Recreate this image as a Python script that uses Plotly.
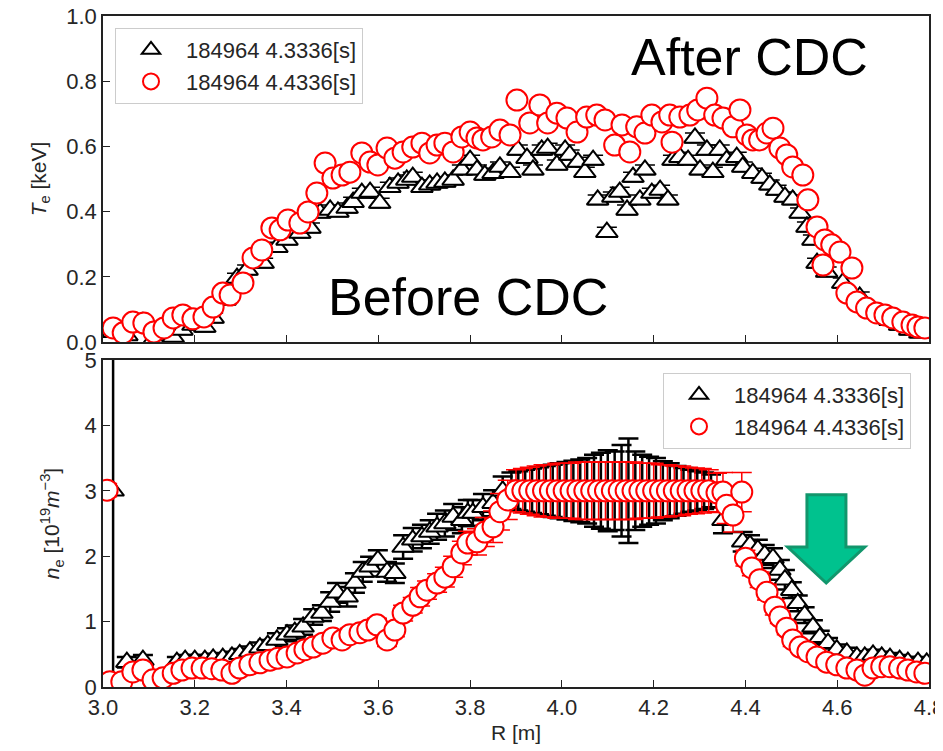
import plotly.graph_objects as go

# ---------------- Data ----------------
label_before = "184964 4.3336[s]"
label_after = "184964 4.4336[s]"

# Top panel: Te [keV], before CDC (black triangles)
R_te_before = [3.022, 3.052, 3.087, 3.111, 3.133, 3.153, 3.172, 3.196, 3.222, 3.240, 3.266, 3.292, 3.314,
               3.349, 3.379, 3.401, 3.429, 3.451, 3.473, 3.495, 3.512, 3.532, 3.545, 3.564, 3.582,
               3.603, 3.625, 3.643, 3.662, 3.675, 3.695, 3.712, 3.728, 3.745, 3.763, 3.782, 3.800,
               3.815, 3.832, 3.850, 3.865, 3.887, 3.904, 3.924, 3.937, 3.956, 3.969, 3.989, 4.007,
               4.017, 4.035, 4.050, 4.068, 4.078, 4.098, 4.111, 4.126, 4.142, 4.155, 4.170, 4.181,
               4.196, 4.214, 4.231, 4.242, 4.257, 4.275, 4.290, 4.301, 4.316, 4.329, 4.344, 4.359,
               4.381, 4.394, 4.416, 4.436, 4.453, 4.468, 4.486, 4.503, 4.519, 4.534, 4.547, 4.556,
               4.577, 4.612, 4.649, 4.671, 4.693, 4.715, 4.736, 4.758, 4.780]
Te_before = [0.030, 0.020, 0.060, 0.010, 0.020, 0.015, 0.037, 0.052, 0.046, 0.074, 0.129, 0.196, 0.221,
             0.242, 0.291, 0.313, 0.334, 0.350, 0.396, 0.405, 0.399, 0.411, 0.429, 0.457, 0.460,
             0.426, 0.475, 0.488, 0.497, 0.506, 0.475, 0.482, 0.488, 0.491, 0.497, 0.528, 0.558,
             0.528, 0.512, 0.518, 0.537, 0.521, 0.589, 0.564, 0.528, 0.589, 0.595, 0.543, 0.589,
             0.574, 0.552, 0.521, 0.558, 0.436, 0.337, 0.445, 0.460, 0.405, 0.506, 0.436, 0.528,
             0.457, 0.466, 0.436, 0.558, 0.567, 0.558, 0.626, 0.528, 0.589, 0.521, 0.589, 0.558,
             0.567, 0.537, 0.518, 0.503, 0.482, 0.466, 0.445, 0.436, 0.396, 0.353, 0.313, 0.242,
             0.215, 0.181, 0.138, 0.098, 0.083, 0.067, 0.052, 0.037, 0.028]
Te_before_err = [0.015] * len(Te_before)

# Top panel: Te [keV], after CDC (red circles)
R_te_after = [3.022, 3.044, 3.065, 3.089, 3.111, 3.133, 3.153, 3.174, 3.196, 3.220, 3.240, 3.261, 3.277,
              3.305, 3.327, 3.346, 3.368, 3.386, 3.403, 3.429, 3.447, 3.466, 3.484, 3.501, 3.521,
              3.538, 3.564, 3.582, 3.599, 3.619, 3.636, 3.654, 3.675, 3.695, 3.712, 3.728, 3.745,
              3.763, 3.782, 3.800, 3.815, 3.828, 3.847, 3.865, 3.887, 3.902, 3.930, 3.952, 3.969,
              3.989, 4.011, 4.033, 4.054, 4.076, 4.094, 4.115, 4.131, 4.148, 4.163, 4.181, 4.196,
              4.218, 4.235, 4.240, 4.257, 4.279, 4.296, 4.316, 4.333, 4.351, 4.373, 4.388, 4.403,
              4.416, 4.431, 4.447, 4.460, 4.475, 4.490, 4.503, 4.525, 4.536, 4.556, 4.569, 4.573,
              4.588, 4.606, 4.621, 4.632, 4.643, 4.664, 4.686, 4.704, 4.721, 4.743, 4.763, 4.776, 4.791]
Te_after = [0.043, 0.028, 0.061, 0.058, 0.031, 0.043, 0.074, 0.083, 0.071, 0.077, 0.107, 0.150, 0.144,
            0.181, 0.258, 0.282, 0.350, 0.344, 0.374, 0.365, 0.399, 0.457, 0.549, 0.503, 0.512,
            0.521, 0.580, 0.552, 0.543, 0.595, 0.564, 0.583, 0.598, 0.610, 0.580, 0.604, 0.610,
            0.583, 0.629, 0.644, 0.626, 0.620, 0.629, 0.650, 0.635, 0.742, 0.672, 0.727, 0.672,
            0.702, 0.687, 0.644, 0.690, 0.696, 0.681, 0.604, 0.666, 0.583, 0.660, 0.641, 0.696,
            0.675, 0.696, 0.613, 0.690, 0.696, 0.712, 0.748, 0.696, 0.687, 0.660, 0.712, 0.635,
            0.620, 0.620, 0.641, 0.656, 0.595, 0.574, 0.537, 0.512, 0.436, 0.353, 0.236, 0.313,
            0.298, 0.276, 0.150, 0.227, 0.123, 0.104, 0.089, 0.083, 0.074, 0.061, 0.052, 0.046, 0.043]
Te_after_err = [0.015] * len(Te_after)

# Bottom panel: ne [1e19 m^-3], before CDC (black triangles)
R_ne_before = [3.022, 3.052, 3.087, 3.161, 3.179, 3.200, 3.222, 3.240, 3.261, 3.281, 3.298, 3.320, 3.342,
               3.359, 3.379, 3.401, 3.418, 3.436, 3.458, 3.477, 3.495, 3.510, 3.532, 3.549, 3.566,
               3.582, 3.599, 3.619, 3.636, 3.654, 3.675, 3.695, 3.712, 3.728, 3.745, 3.763, 3.782,
               3.795, 3.806, 3.828, 3.850, 3.871, 3.890, 3.905, 3.920, 3.935, 3.950, 3.965, 3.980,
               3.995, 4.010, 4.025, 4.040, 4.055, 4.070, 4.085, 4.100, 4.115, 4.130, 4.145, 4.160,
               4.175, 4.190, 4.205, 4.220, 4.235, 4.250, 4.265, 4.280, 4.295, 4.310, 4.325, 4.351,
               4.394, 4.410, 4.427, 4.442, 4.460, 4.475, 4.486, 4.501, 4.514, 4.529, 4.547, 4.562,
               4.580, 4.599, 4.621, 4.643, 4.660, 4.678, 4.697, 4.715, 4.736, 4.754, 4.776, 4.795]
ne_before = [3.00, 0.38, 0.41, 0.38, 0.41, 0.41, 0.41, 0.43, 0.44, 0.46, 0.50, 0.54, 0.60,
             0.64, 0.72, 0.80, 0.84, 0.92, 1.07, 1.13, 1.30, 1.44, 1.38, 1.59, 1.76,
             1.84, 1.94, 1.76, 1.74, 2.14, 2.25, 2.30, 2.37, 2.45, 2.50, 2.60, 2.55,
             2.66, 2.66, 2.75, 2.81, 3.00, 3.00, 3.00, 3.00, 3.00, 3.00, 3.00, 3.00,
             3.00, 3.00, 3.00, 3.00, 3.00, 3.00, 3.00, 3.00, 3.00, 3.00, 3.00, 3.00,
             3.00, 3.00, 3.00, 3.00, 3.00, 3.00, 3.00, 3.00, 3.00, 3.00, 3.00, 2.55,
             2.22, 2.17, 2.10, 2.02, 1.97, 1.79, 1.64, 1.48, 1.28, 1.10, 0.92, 0.76,
             0.67, 0.57, 0.52, 0.46, 0.46, 0.49, 0.46, 0.44, 0.41, 0.38, 0.38, 0.37]
ne_before_err = [6.00, 0.08, 0.08, 0.08, 0.08, 0.08, 0.08, 0.08, 0.08, 0.08, 0.08, 0.08, 0.08,
                 0.08, 0.10, 0.10, 0.10, 0.12, 0.12, 0.12, 0.15, 0.15, 0.15, 0.15, 0.15,
                 0.15, 0.15, 0.15, 0.15, 0.18, 0.18, 0.18, 0.18, 0.20, 0.20, 0.20, 0.20,
                 0.20, 0.20, 0.20, 0.20, 0.22, 0.28, 0.30, 0.32, 0.34, 0.36, 0.38, 0.40,
                 0.42, 0.44, 0.46, 0.48, 0.50, 0.55, 0.58, 0.62, 0.60, 0.70, 0.80, 0.60,
                 0.55, 0.52, 0.50, 0.45, 0.42, 0.38, 0.35, 0.32, 0.30, 0.28, 0.25, 0.20,
                 0.15, 0.15, 0.15, 0.15, 0.15, 0.15, 0.15, 0.12, 0.12, 0.12, 0.10, 0.10,
                 0.08, 0.08, 0.08, 0.08, 0.08, 0.08, 0.08, 0.08, 0.08, 0.08, 0.08, 0.08]

# Bottom panel: ne [1e19 m^-3], after CDC (red circles)
R_ne_after = [3.009, 3.015, 3.041, 3.065, 3.087, 3.109, 3.131, 3.153, 3.172, 3.194, 3.216, 3.237, 3.259,
              3.281, 3.298, 3.320, 3.342, 3.364, 3.381, 3.401, 3.423, 3.440, 3.458, 3.479, 3.501,
              3.521, 3.538, 3.560, 3.577, 3.597, 3.619, 3.636, 3.654, 3.675, 3.691, 3.706, 3.728,
              3.745, 3.763, 3.782, 3.795, 3.815, 3.832, 3.850, 3.865, 3.882, 3.900, 3.915, 3.930,
              3.945, 3.960, 3.975, 3.990, 4.005, 4.020, 4.035, 4.050, 4.065, 4.080, 4.095, 4.110,
              4.125, 4.140, 4.155, 4.170, 4.185, 4.200, 4.215, 4.230, 4.245, 4.260, 4.275, 4.290,
              4.305, 4.320, 4.338, 4.351, 4.359, 4.373, 4.392, 4.400, 4.414, 4.431, 4.447, 4.464,
              4.475, 4.490, 4.503, 4.519, 4.536, 4.556, 4.577, 4.599, 4.621, 4.643, 4.660, 4.678,
              4.697, 4.715, 4.736, 4.754, 4.773, 4.791]
ne_after = [3.01, 0.08, 0.08, 0.23, 0.26, 0.11, 0.14, 0.21, 0.26, 0.29, 0.29, 0.28, 0.26,
            0.21, 0.29, 0.34, 0.37, 0.41, 0.44, 0.46, 0.52, 0.57, 0.61, 0.67, 0.75,
            0.72, 0.80, 0.83, 0.87, 0.95, 0.72, 0.87, 1.13, 1.25, 1.38, 1.48, 1.59,
            1.68, 1.84, 2.05, 2.20, 2.22, 2.37, 2.45, 2.68, 2.86, 3.00, 3.00, 3.00,
            3.00, 3.00, 3.00, 3.00, 3.00, 3.00, 3.00, 3.00, 3.00, 3.00, 3.00, 3.00,
            3.00, 3.00, 3.00, 3.00, 3.00, 3.00, 3.00, 3.00, 3.00, 3.00, 3.00, 3.00,
            3.00, 3.00, 2.97, 2.98, 2.78, 2.63, 2.98, 1.97, 1.82, 1.64, 1.45, 1.22,
            1.07, 0.90, 0.72, 0.61, 0.54, 0.46, 0.38, 0.34, 0.29, 0.26, 0.18, 0.29,
            0.31, 0.31, 0.29, 0.26, 0.23, 0.21]
ne_after_err = [0.10, 0.06, 0.06, 0.06, 0.06, 0.06, 0.06, 0.06, 0.06, 0.06, 0.06, 0.06, 0.06,
                0.06, 0.06, 0.06, 0.06, 0.06, 0.06, 0.06, 0.06, 0.08, 0.08, 0.08, 0.08,
                0.08, 0.10, 0.10, 0.10, 0.10, 0.10, 0.10, 0.12, 0.12, 0.14, 0.14, 0.14,
                0.15, 0.16, 0.18, 0.18, 0.20, 0.22, 0.24, 0.28, 0.30, 0.32, 0.34, 0.36,
                0.38, 0.40, 0.40, 0.42, 0.42, 0.42, 0.44, 0.44, 0.44, 0.44, 0.44, 0.44,
                0.44, 0.44, 0.44, 0.42, 0.42, 0.42, 0.40, 0.40, 0.38, 0.38, 0.36, 0.35,
                0.34, 0.32, 0.30, 0.30, 0.28, 0.26, 0.30, 0.12, 0.12, 0.12, 0.12, 0.12,
                0.10, 0.10, 0.10, 0.08, 0.08, 0.08, 0.06, 0.06, 0.06, 0.06, 0.06, 0.06,
                0.06, 0.06, 0.06, 0.06, 0.06, 0.06]

# Arrow (bottom panel, data coordinates)
arrow_x = [4.534, 4.619, 4.619, 4.660, 4.576, 4.492, 4.534]
arrow_y = [2.94, 2.94, 2.14, 2.14, 1.59, 2.14, 2.14]

x_ticks = [3.0, 3.2, 3.4, 3.6, 3.8, 4.0, 4.2, 4.4, 4.6, 4.8]
x_tick_text = ["3.0", "3.2", "3.4", "3.6", "3.8", "4.0", "4.2", "4.4", "4.6", "4.8"]
te_ticks = [0.0, 0.2, 0.4, 0.6, 0.8, 1.0]
te_tick_text = ["0.0", "0.2", "0.4", "0.6", "0.8", "1.0"]
ne_ticks = [0, 1, 2, 3, 4, 5]

# ---------------- Figure ----------------
FONT = "Liberation Sans"
TXT = "#262626"
BLACK = "#000000"
RED = "#ff0000"

fig = go.Figure()


def add_series(x, y, err, color, symbol, size, name, xa, ya, legend, bar_w):
    fig.add_trace(go.Scatter(
        x=x, y=y, mode="markers", name=name,
        xaxis=xa, yaxis=ya, legend=legend,
        marker=dict(symbol=symbol, size=size, color="white",
                    line=dict(color=color, width=2)),
        error_y=dict(type="data", array=err, visible=True, color=color,
                     thickness=bar_w, width=10),
    ))


add_series(R_te_before, Te_before, Te_before_err, BLACK, "triangle-up", 19, label_before, "x", "y", "legend", 1.5)
add_series(R_te_after, Te_after, Te_after_err, RED, "circle", 21, label_after, "x", "y", "legend", 1.5)
add_series(R_ne_before, ne_before, ne_before_err, BLACK, "triangle-up", 19, label_before, "x2", "y2", "legend2", 2.5)
add_series(R_ne_after, ne_after, ne_after_err, RED, "circle", 21, label_after, "x2", "y2", "legend2", 1.5)

# Geometry: page body has an 8px margin, so figure is 8px smaller and shifted.
OFF = 8
W, H = 943 - OFF, 751 - OFF
L, Rm, T, B = 103 - OFF, 14, 16 - OFF, 64
ph = H - T - B           # plot height in px
pw = W - L - Rm          # plot width in px


def py(y_screen):        # screen px (reference) -> paper y
    return (687 - y_screen) / ph


def px(x_screen):        # screen px (reference) -> paper x
    return (x_screen - 103) / pw


top_dom = [py(342), 1.0]
bot_dom = [0.0, py(360)]

axis_common = dict(showline=True, linecolor="#222222", linewidth=1.5, mirror=True,
                   ticks="inside", ticklen=7, tickwidth=1.2, tickcolor="#222222",
                   showgrid=False, zeroline=False, automargin=False,
                   ticklabeloverflow="allow",
                   tickfont=dict(family=FONT, size=22, color=TXT))

fig.update_layout(
    width=W, height=H,
    margin=dict(l=L, r=Rm, t=T, b=B, autoexpand=False),
    plot_bgcolor="white", paper_bgcolor="white",
    showlegend=True,
    xaxis=dict(axis_common, domain=[0, 1], anchor="y", range=[3.0, 4.8],
               tickvals=x_ticks, showticklabels=False),
    yaxis=dict(axis_common, domain=top_dom, anchor="x", range=[0, 1.0],
               tickvals=te_ticks, ticktext=te_tick_text,
               title=dict(text="<i>T</i><sub>e</sub> [keV]", standoff=14,
                          font=dict(family=FONT, size=21, color=TXT))),
    xaxis2=dict(axis_common, domain=[0, 1], anchor="y2", range=[3.0, 4.8],
                tickvals=x_ticks, ticktext=x_tick_text,
                title=dict(text="R [m]", standoff=6, font=dict(family=FONT, size=21, color=TXT))),
    yaxis2=dict(axis_common, domain=bot_dom, anchor="x2", range=[0, 5],
                tickvals=ne_ticks,
                title=dict(text="<i>n</i><sub>e</sub> [10<sup>19</sup><i>m</i><sup>−3</sup>]", standoff=19,
                           font=dict(family=FONT, size=21, color=TXT))),
    legend=dict(x=px(115), y=py(28), xanchor="left", yanchor="top",
                bgcolor="rgba(255,255,255,0.85)", bordercolor="#cccccc", borderwidth=1,
                font=dict(family=FONT, size=22, color=TXT), itemwidth=60, tracegroupgap=4),
    legend2=dict(x=px(663), y=py(373), xanchor="left", yanchor="top",
                 bgcolor="rgba(255,255,255,0.85)", bordercolor="#cccccc", borderwidth=1,
                 font=dict(family=FONT, size=22, color=TXT), itemwidth=60, tracegroupgap=4),
)

# Green arrow
path = "M " + " L ".join(f"{x},{y}" for x, y in zip(arrow_x, arrow_y)) + " Z"
fig.add_shape(type="path", path=path, xref="x2", yref="y2",
              fillcolor="#00c28e", line=dict(color="#12966c", width=3), layer="above")

# Text annotations
fig.add_annotation(text="After CDC", xref="paper", yref="paper",
                   x=px(749), y=py(57), xanchor="center", yanchor="middle", showarrow=False,
                   font=dict(family=FONT, size=52, color="black"))
fig.add_annotation(text="Before CDC", xref="paper", yref="paper",
                   x=px(468), y=py(297), xanchor="center", yanchor="middle", showarrow=False,
                   font=dict(family=FONT, size=52, color="black"))

fig.write_html("out.html")
